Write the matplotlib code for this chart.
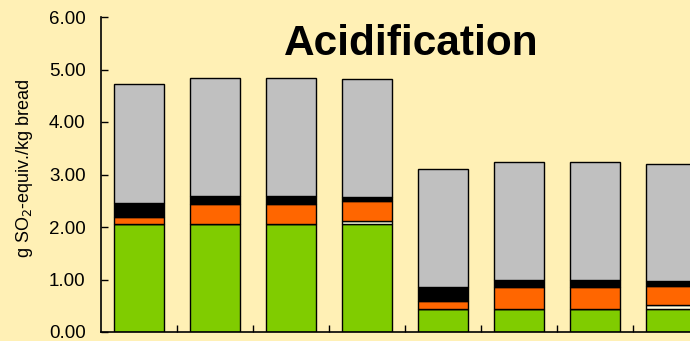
import matplotlib
matplotlib.use("Agg")
import matplotlib.pyplot as plt
import numpy as np

plt.rcParams['font.family'] = ['Liberation Sans', 'DejaVu Sans']

bars = ["1", "2", "3", "4", "5", "6", "7", "8"]
green = [2.05, 2.05, 2.05, 2.05, 0.43, 0.43, 0.43, 0.43]
white = [0.00, 0.00, 0.00, 0.07, 0.00, 0.00, 0.00, 0.08]
orange = [0.15, 0.39, 0.39, 0.38, 0.17, 0.42, 0.42, 0.37]
black = [0.26, 0.16, 0.16, 0.07, 0.26, 0.15, 0.15, 0.09]
gray = [2.26, 2.24, 2.24, 2.24, 2.24, 2.23, 2.23, 2.23]

yticks = [0, 1, 2, 3, 4, 5, 6]

bg = '#FFF0B5'
fig = plt.figure(figsize=(6.9, 3.41), dpi=100, facecolor=bg)
ax = fig.add_axes([101/690, 9/341, 608/690, 315/341])
ax.set_facecolor(bg)

x = np.arange(len(bars))
bottom = np.zeros(len(bars))
for vals, col in [(green, '#80CC00'), (white, '#FFFFE0'), (orange, '#FF6600'),
                  (black, '#000000'), (gray, '#C0C0C0')]:
    v = np.array(vals)
    ax.bar(x, v, bottom=bottom, width=0.67, color=col, edgecolor='black', linewidth=1.0)
    bottom += v

ax.set_xlim(-0.5, len(bars) - 0.5)
ax.set_ylim(0, 6)
ax.set_yticks(yticks)
ax.set_yticklabels([f"{t:.2f}" for t in yticks])
ax.set_xticks(np.arange(0.5, len(bars) - 0.5, 1.0))
ax.set_xticklabels([])
ax.tick_params(axis='y', direction='in', length=5, pad=11, labelsize=13.5, width=1)
ax.tick_params(axis='x', direction='in', length=5, width=1)
for s in ['top', 'right']:
    ax.spines[s].set_visible(False)
ax.spines['left'].set_linewidth(1.2)
ax.spines['bottom'].set_linewidth(1.2)
ax.set_ylabel("g SO$_2$-equiv./kg bread", fontsize=13)
ax.yaxis.set_label_coords(-0.108, 0.52)
ax.text(0.51, 5.28, "Acidification", transform=ax.get_yaxis_transform(),
        ha='center', va='baseline', fontsize=30.5, fontweight='bold')

fig.savefig("out.png", dpi=100, facecolor=bg)
